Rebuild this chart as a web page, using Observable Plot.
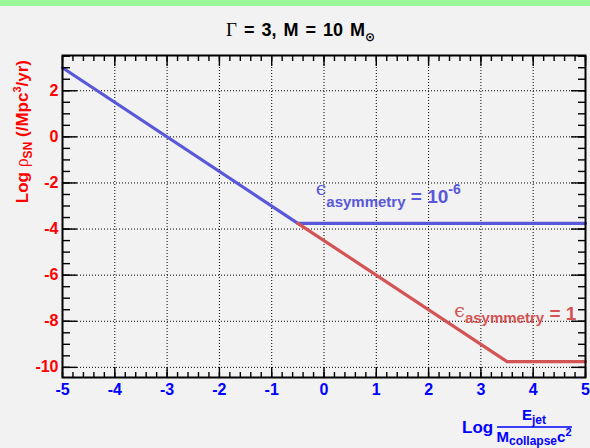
<!DOCTYPE html>
<html>
<head>
<meta charset="utf-8">
<script src="https://cdn.jsdelivr.net/npm/d3@7"></script>
<script src="https://cdn.jsdelivr.net/npm/@observablehq/plot@0.6"></script>
<style>
  html, body { margin: 0; padding: 0; background: #f2f2f2; }
  #wrap { position: relative; width: 590px; height: 448px; overflow: hidden; }
  #bar { position: absolute; left: 0; top: 0; width: 590px; height: 6px; background: #9af79a; }
  svg { display: block; overflow: visible; }
</style>
</head>
<body>
<div id="wrap"><div id="bar"></div></div>
<script>
// Supernova rate vs. jet energy fraction, Γ = 3, M = 10 M⊙
const blueX = [-5, -0.5, 5];          // ε_asymmetry = 1e-6
const blueY = [3, -3.75, -3.75];
const redX = [-0.5, 3.5, 5];          // ε_asymmetry = 1
const redY = [-3.75, -9.75, -9.75];

const xTicks = [-5, -4, -3, -2, -1, 0, 1, 2, 3, 4, 5];
const yTicks = [-10, -8, -6, -4, -2, 0, 2];
const xMinor = d3.range(-50, 51, 2).map(d => d / 10);
const yMinor = d3.range(-20, 8, 1).map(d => d / 2);

const blue = blueX.map((x, i) => ({x, y: blueY[i]}));
const red = redX.map((x, i) => ({x, y: redY[i]}));

const BLUE = "#5858d8", RED = "#d35454";
const SANS = "'Liberation Sans', Arial, Helvetica, sans-serif";
const SERIF = "'DejaVu Serif', 'Liberation Serif', serif";

const dotted = {stroke: "#000", strokeOpacity: 1, strokeDasharray: "1,2", strokeWidth: 1};
const tickStyle = {fill: "none", stroke: "#000", strokeWidth: 1.4, label: null};

const plot = Plot.plot({
  width: 590,
  height: 448,
  marginLeft: 62,
  marginRight: 5,
  marginTop: 55,
  marginBottom: 71,
  x: {domain: [-5, 5]},
  y: {domain: [-10.44, 3.53]},
  style: {background: "transparent", fontFamily: SANS, overflow: "visible"},
  marks: [
    Plot.gridX(xTicks, dotted),
    Plot.gridY(yTicks, dotted),
    Plot.line(blue, {x: "x", y: "y", stroke: BLUE, strokeWidth: 3.2}),
    Plot.line(red, {x: "x", y: "y", stroke: RED, strokeWidth: 3.2}),
    // inward tick marks on all four sides
    Plot.axisX(xTicks, {anchor: "bottom", tickSize: -10, ...tickStyle}),
    Plot.axisX(xMinor, {anchor: "bottom", tickSize: -5, ...tickStyle}),
    Plot.axisX(xTicks, {anchor: "top", tickSize: -10, ...tickStyle}),
    Plot.axisX(xMinor, {anchor: "top", tickSize: -5, ...tickStyle}),
    Plot.axisY(yTicks, {anchor: "left", tickSize: -15, ...tickStyle}),
    Plot.axisY(yMinor, {anchor: "left", tickSize: -8, ...tickStyle}),
    Plot.axisY(yTicks, {anchor: "right", tickSize: -15, ...tickStyle}),
    Plot.axisY(yMinor, {anchor: "right", tickSize: -8, ...tickStyle}),
    // tick labels
    Plot.axisX(xTicks, {anchor: "bottom", tickSize: 0, tickPadding: 6, tickFormat: d => String(d),
      fill: "#0000ff", fontSize: 16, fontWeight: "bold", label: null}),
    Plot.axisY(yTicks, {anchor: "left", tickSize: 0, tickPadding: 4, tickFormat: d => String(d),
      fill: "#ff0000", fontSize: 16, fontWeight: "bold", label: null}),
    Plot.frame({stroke: "#000", strokeWidth: 2})
  ]
});

document.getElementById("wrap").appendChild(plot);

const svg = d3.select(plot);
const sx = plot.scale("x"), sy = plot.scale("y");

// text with styled runs (sub/superscripts, symbol fonts)
function rich(x, y, parts, attrs = {}) {
  const t = svg.append("text").attr("x", x).attr("y", y)
    .attr("font-family", SANS).attr("font-weight", "bold").attr("text-anchor", "start");
  for (const [k, v] of Object.entries(attrs)) t.attr(k, v);
  for (const p of parts) {
    const s = t.append("tspan").text(p.t);
    if (p.dy) s.attr("dy", p.dy);
    if (p.size) s.attr("font-size", p.size);
    if (p.family) s.attr("font-family", p.family);
    if (p.weight) s.attr("font-weight", p.weight);
  }
  return t;
}

// title
rich(226, 36, [
  {t: "Γ", family: "'Liberation Serif', serif", weight: "normal", size: 19},
  {t: " = 3, M = 10 M"},
  {t: "⊙", size: 12, dy: 5, family: "'DejaVu Sans', sans-serif"}
], {"font-size": 18, fill: "#000", style: "word-spacing:2px"});

// y axis title
rich(0, 0, [
  {t: "Log "},
  {t: "ρ", family: "'Liberation Serif', serif", weight: "normal", size: 18},
  {t: "SN", size: 12, dy: 4},
  {t: " (/Mpc", dy: -4},
  {t: "3", size: 11, dy: -7},
  {t: "/yr)", dy: 7}
], {"font-size": 17, fill: "#ff0000", "text-anchor": "end", transform: "translate(28,60) rotate(-90)"});

// x axis title: Log E_jet / (M_collapse c^2)
rich(462, 433, [{t: "Log"}], {"font-size": 17, fill: "#0000ff"});
rich(534, 420, [{t: "E"}, {t: "jet", size: 12, dy: 4}],
  {"font-size": 15, fill: "#0000ff", "text-anchor": "middle"});
svg.append("line").attr("x1", 497).attr("x2", 572).attr("y1", 427).attr("y2", 427)
  .attr("stroke", "#0000ff").attr("stroke-width", 1.6);
rich(534, 442, [
  {t: "M"}, {t: "collapse", size: 12, dy: 3},
  {t: "c", dy: -3}, {t: "2", size: 11, dy: -6}
], {"font-size": 15, fill: "#0000ff", "text-anchor": "middle"});

// series labels
rich(sx.apply(-0.15), sy.apply(-2.91), [
  {t: "ϵ", family: SERIF, weight: "normal", size: 19, dy: -8},
  {t: "asymmetry", size: 15, dy: 12},
  {t: " = 10", dy: -4},
  {t: "-6", size: 14, dy: -9}
], {"font-size": 19, fill: BLUE});

rich(sx.apply(2.5), sy.apply(-7.96), [
  {t: "ϵ", family: SERIF, weight: "normal", size: 19, dy: -3},
  {t: "asymmetry", size: 15, dy: 6},
  {t: " = 1", dy: -3}
], {"font-size": 19, fill: RED});
</script>
</body>
</html>
